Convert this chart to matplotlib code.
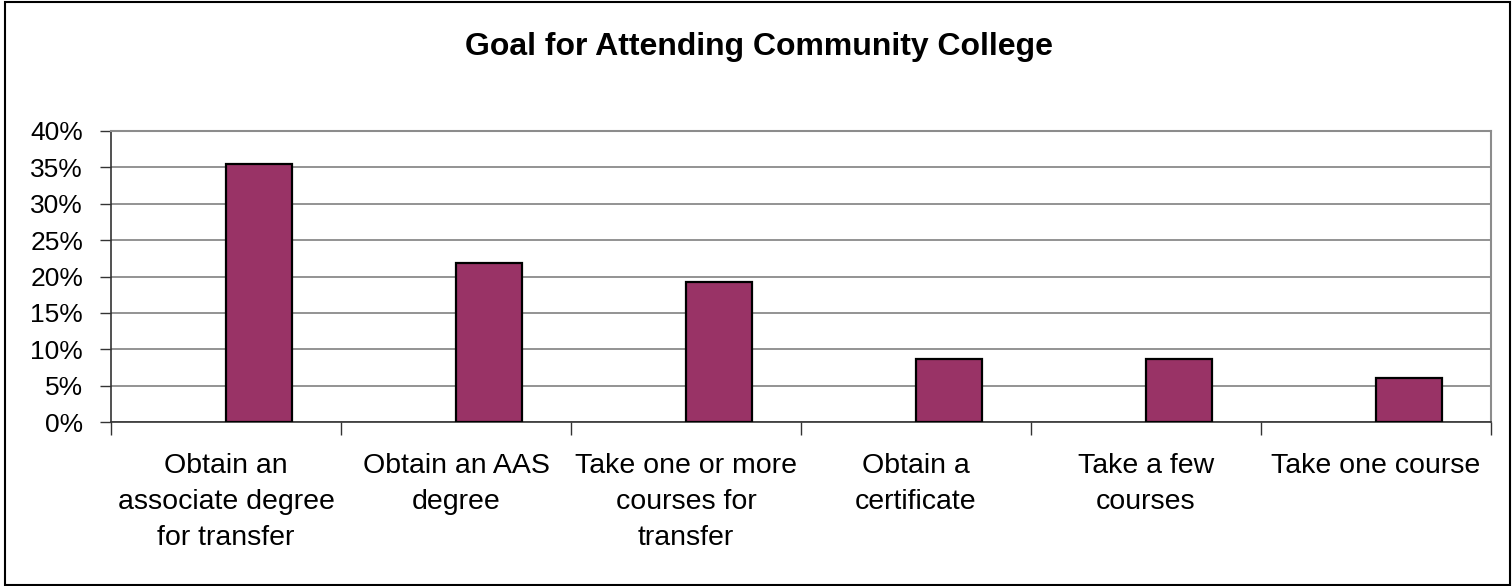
import numpy as np
import matplotlib
matplotlib.use("Agg")
import matplotlib.pyplot as plt
from matplotlib.patches import Rectangle

plt.rcParams['font.family'] = ['Liberation Sans', 'DejaVu Sans']

# survey shares, percent
goals = ["Obtain an\nassociate degree\nfor transfer",
         "Obtain an AAS\ndegree",
         "Take one or more\ncourses for\ntransfer",
         "Obtain a\ncertificate",
         "Take a few\ncourses",
         "Take one course"]
share = [35.5, 21.9, 19.2, 8.7, 8.7, 6.0]
yticks = [0, 5, 10, 15, 20, 25, 30, 35, 40]

fig = plt.figure(figsize=(15.12, 5.86), dpi=100)
ax = fig.add_axes([111/1512, 1-422/586, (1491-111)/1512, (422-131)/586])

# excel-style clustered layout: gap width 150%, bar sits right of centre
bw = 1/3.5
x = np.arange(len(goals))
ax.bar(x, share, width=bw, align='edge', color='#993366',
       edgecolor='black', linewidth=1.6, zorder=3)

ax.set_xlim(-0.5, len(goals)-0.5)
ax.set_ylim(0, 40)
ax.set_yticks(yticks)
ax.set_yticklabels([f"{v}%" for v in yticks], fontsize=19)
ax.yaxis.grid(True, color='#808080', linewidth=1.2, zorder=0)

ax.set_xticks(x)
ax.set_xticklabels(goals, fontsize=20.5, linespacing=1.5, va='top')
ax.set_xticks(np.arange(len(goals)+1)-0.5, minor=True)
ax.tick_params(axis='x', which='major', length=0, pad=22)
ax.tick_params(axis='x', which='minor', length=9, width=1, color='#333333', direction='out')
ax.tick_params(axis='y', length=8, width=1, color='#333333', pad=12)

for s in ['top', 'right']:
    ax.spines[s].set_color('#8c8c8c')
    ax.spines[s].set_linewidth(1.5)
for s in ['left', 'bottom']:
    ax.spines[s].set_color('#333333')
    ax.spines[s].set_linewidth(1.2)

fig.text(759/1512, 1-47/586, "Goal for Attending Community College",
         ha='center', va='center', fontsize=23, fontweight='bold')

# chart-area frame
fig.patches.append(Rectangle((5/1512, 1/586), 1505/1512, 583/586,
                             transform=fig.transFigure, fill=False,
                             edgecolor='black', linewidth=1.5))

fig.savefig("out.png", dpi=100)
